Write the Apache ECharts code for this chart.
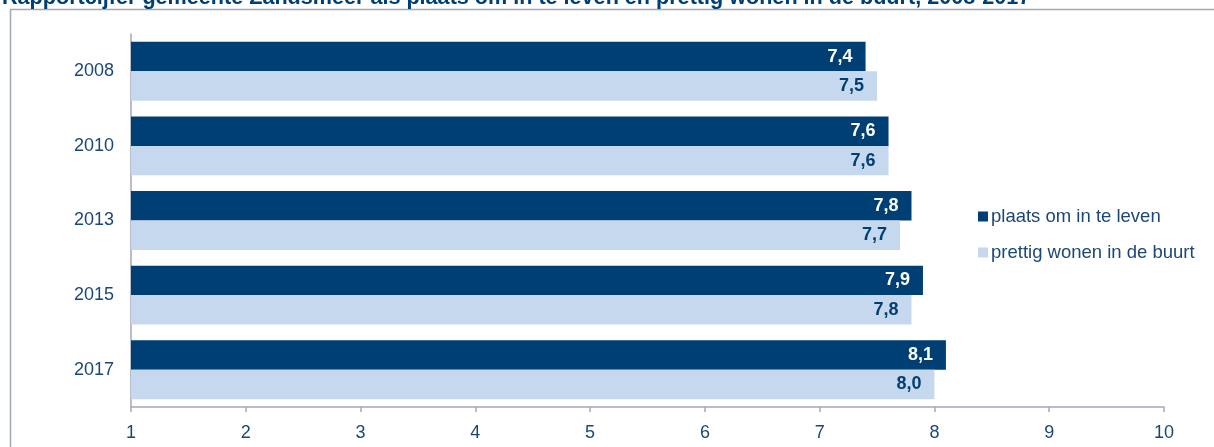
<!DOCTYPE html>
<html>
<head>
<meta charset="utf-8">
<script src="https://cdn.jsdelivr.net/npm/echarts@6/dist/echarts.min.js"></script>
<style>
  html, body { margin: 0; padding: 0; background: #ffffff; }
  #chart { width: 1214px; height: 447px; }
</style>
</head>
<body>
<div id="chart"></div>
<script>
// Rapportcijfers per jaar
const years = ['2008', '2010', '2013', '2015', '2017'];
const plaatsOmInTeLeven = [7.4, 7.6, 7.8, 7.9, 8.1];
const prettigWonenInDeBuurt = [7.5, 7.6, 7.7, 7.8, 8.0];
const seriesNames = ['plaats om in te leven', 'prettig wonen in de buurt'];
const xTicks = [1, 2, 3, 4, 5, 6, 7, 8, 9, 10];
const titleText = 'Rapportcijfer gemeente Zandsmeer als plaats om in te leven en prettig wonen in de buurt, 2008-2017';

const DARK = '#003f73';
const LIGHT = '#c6d8ed';
const TEXT = '#1b4677';
const AXIS = '#a2a9b8';
const FONT = '"Liberation Sans", Arial, sans-serif';

const fmt = v => v.toFixed(1).replace('.', ',');

const chart = echarts.init(document.getElementById('chart'), null, { renderer: 'canvas' });

chart.setOption({
  animation: false,
  backgroundColor: '#ffffff',
  textStyle: { fontFamily: FONT },
  title: {
    text: titleText,
    left: 2,
    top: -13,
    padding: 0,
    textStyle: { color: DARK, fontSize: 21.6, fontWeight: 'bold', fontFamily: FONT }
  },
  graphic: [{
    type: 'rect',
    silent: true,
    shape: { x: 10.5, y: 9.5, width: 1300, height: 600 },
    style: { fill: null, stroke: AXIS, lineWidth: 1.5 }
  }],
  legend: {
    orient: 'vertical',
    left: 973,
    top: 202,
    itemWidth: 10,
    itemHeight: 10,
    itemGap: 17,
    icon: 'rect',
    data: seriesNames,
    textStyle: { color: TEXT, fontSize: 18.5, fontFamily: FONT, padding: [0, 0, 0, -2] }
  },
  grid: { left: 131, right: 50, top: 34, bottom: 40, containLabel: false },
  xAxis: {
    type: 'value',
    min: xTicks[0],
    max: xTicks[xTicks.length - 1],
    interval: 1,
    splitLine: { show: false },
    axisLine: { show: true, lineStyle: { color: AXIS, width: 1.5 } },
    axisTick: { show: true, length: 5, lineStyle: { color: AXIS, width: 1.5 } },
    axisLabel: { color: TEXT, fontSize: 18, margin: 17, fontFamily: FONT }
  },
  yAxis: {
    type: 'category',
    data: years,
    inverse: true,
    axisLine: { show: true, lineStyle: { color: AXIS, width: 1.5 } },
    axisTick: { show: false },
    axisLabel: { color: TEXT, fontSize: 18, margin: 17, fontFamily: FONT }
  },
  series: [
    {
      name: seriesNames[0],
      type: 'bar',
      data: plaatsOmInTeLeven,
      barGap: '0%',
      barCategoryGap: '21%',
      itemStyle: { color: DARK },
      label: {
        show: true,
        position: 'insideRight',
        distance: 13,
        color: '#ffffff',
        fontSize: 18,
        fontWeight: 'bold',
        fontFamily: FONT,
        formatter: p => fmt(p.value)
      }
    },
    {
      name: seriesNames[1],
      type: 'bar',
      data: prettigWonenInDeBuurt,
      barGap: '0%',
      barCategoryGap: '21%',
      itemStyle: { color: LIGHT },
      label: {
        show: true,
        position: 'insideRight',
        distance: 13,
        color: DARK,
        fontSize: 18,
        fontWeight: 'bold',
        fontFamily: FONT,
        formatter: p => fmt(p.value)
      }
    }
  ]
});
</script>
</body>
</html>
